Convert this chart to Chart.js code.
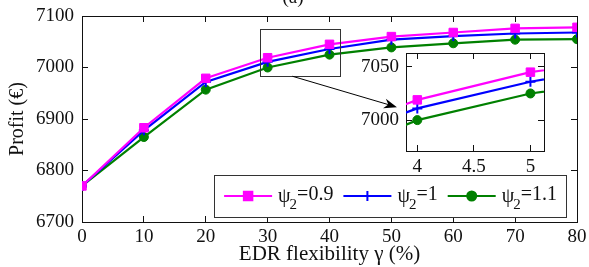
<!DOCTYPE html>
<html>
<head>
<meta charset="utf-8">
<script src="https://cdn.jsdelivr.net/npm/chart.js@4"></script>
<style>
html, body { margin: 0; padding: 0; background: #fff; }
#contenedor { position: relative; width: 589px; height: 267px; }
#grafico { position: absolute; left: 0; top: 0; }
#detalle { position: absolute; left: 340px; top: 45px; }
</style>
</head>
<body>
<div id="contenedor">
  <canvas id="grafico" width="589" height="267"></canvas>
  <canvas id="detalle" width="215" height="130"></canvas>
</div>
<script>
// datos
const flexibilidad = [0, 10, 20, 30, 40, 50, 60, 70, 80];
const psi09 = [6770, 6883, 6979, 7019, 7045, 7060, 7068, 7076, 7078];
const psi10 = [6770, 6878, 6972, 7011, 7036, 7054, 7061, 7066, 7068];
const psi11 = [6770, 6865, 6957, 7000, 7025, 7039, 7047, 7054, 7055];
const etiquetas = ['0.9', '1', '1.1'];

const ticksX = [0, 10, 20, 30, 40, 50, 60, 70, 80];
const ticksY = [6700, 6800, 6900, 7000, 7100];

// recuadro ampliado (eje 4..5 del detalle)
const detalleX = [3, 4, 5, 6];
const detalleTicksX = [4, 4.5, 5];
const detalleTicksY = [7000, 7050];
const zonaZoom = {x: [28.8, 41.7], y: [6983, 7075]};
const flecha = {desde: [34, 6983], hasta: [50.9, 6923]};

const fuente = '"Liberation Serif", serif';
const negro = '#111';
const colores = ['#ff00ff', '#0000ff', '#008000'];
const estilos = [
    {pointStyle: 'rect', pointRadius: 6, pointBorderWidth: 1},
    {pointStyle: 'cross', pointRadius: 5, pointBorderWidth: 2},
    {pointStyle: 'circle', pointRadius: 4.5, pointBorderWidth: 1}
];

const puntos = (xs, ys) => xs.map((x, i) => ({x: x, y: ys[i]}));

const series = (xs, lista) => lista.map((ys, i) => ({
    label: etiquetas[i],
    data: puntos(xs, ys),
    borderColor: colores[i],
    backgroundColor: colores[i],
    borderWidth: 2.2,
    ...estilos[i],
    pointHoverRadius: estilos[i].pointRadius
}));

// sin relleno extra por las etiquetas de los extremos
const ajustar = (ancho, alto) => s => {
    if (ancho != null) s.width = ancho;
    if (alto != null) s.height = alto;
    s.paddingTop = 0;
    s.paddingBottom = 0;
    s.paddingLeft = 0;
    s.paddingRight = 0;
};

const eje = (pos, min, max, valores, opciones) => ({
    type: 'linear',
    position: pos,
    min: min,
    max: max,
    afterBuildTicks: s => { s.ticks = valores.map(v => ({value: v})); },
    grid: {drawOnChartArea: false, tickLength: -6, color: negro, lineWidth: 1},
    border: {color: negro, width: 1},
    ticks: {display: false},
    ...opciones
});

const textoTicks = (padding) => ({
    display: true, color: negro, padding: padding,
    font: {family: fuente, size: 19},
    callback: v => String(v)
});

const dibujarMarca = (ctx, i, x, y) => {
    const e = estilos[i];
    Chart.helpers.drawPoint(ctx, {
        pointStyle: e.pointStyle, radius: e.pointRadius, borderWidth: e.pointBorderWidth, rotation: 0
    }, x, y);
};

const extras = {
    id: 'extras',
    afterDraw(chart) {
        const {ctx, chartArea, scales} = chart;
        ctx.save();

        // zona del zoom
        ctx.strokeStyle = '#333';
        ctx.lineWidth = 1;
        const zx1 = scales.x.getPixelForValue(zonaZoom.x[0]);
        const zx2 = scales.x.getPixelForValue(zonaZoom.x[1]);
        const zy1 = scales.y.getPixelForValue(zonaZoom.y[1]);
        const zy2 = scales.y.getPixelForValue(zonaZoom.y[0]);
        ctx.strokeRect(Math.round(zx1) + 0.5, Math.round(zy1) + 0.5, Math.round(zx2 - zx1), Math.round(zy2 - zy1));

        // flecha
        const ax = scales.x.getPixelForValue(flecha.desde[0]);
        const ay = scales.y.getPixelForValue(flecha.desde[1]);
        const bx = scales.x.getPixelForValue(flecha.hasta[0]);
        const by = scales.y.getPixelForValue(flecha.hasta[1]);
        const ang = Math.atan2(by - ay, bx - ax);
        const c = Math.cos(ang), s = Math.sin(ang);
        ctx.strokeStyle = '#000';
        ctx.beginPath();
        ctx.moveTo(ax, ay);
        ctx.lineTo(bx - 8 * c, by - 8 * s);
        ctx.stroke();
        ctx.fillStyle = '#000';
        ctx.beginPath();
        ctx.moveTo(bx, by);
        ctx.lineTo(bx - 13 * c + 5 * s, by - 13 * s - 5 * c);
        ctx.lineTo(bx - 9 * c, by - 9 * s);
        ctx.lineTo(bx - 13 * c - 5 * s, by - 13 * s + 5 * c);
        ctx.closePath();
        ctx.fill();

        // titulo cortado arriba
        ctx.font = '19px ' + fuente;
        ctx.fillStyle = negro;
        ctx.textAlign = 'center';
        ctx.textBaseline = 'alphabetic';
        ctx.fillText('(a)', 293, 3);

        // leyenda
        const grande = '20px ' + fuente;
        const chica = '15px ' + fuente;
        const medir = (f, t) => { ctx.font = f; return ctx.measureText(t).width; };
        const anchos = etiquetas.map(t => medir(grande, '\u03c8') - 1 + medir(chica, '2') + medir(grande, '=' + t));
        const ancho = 10 + anchos.reduce((s, a) => s + 48 + 6 + a + 10, 0) - 1;
        const alto = 42;
        const x0 = chartArea.right - 11 - ancho;
        const y0 = chartArea.bottom - 5 - alto;
        ctx.fillStyle = '#fff';
        ctx.fillRect(x0, y0, ancho, alto);
        ctx.strokeStyle = '#333';
        ctx.lineWidth = 1;
        ctx.strokeRect(Math.round(x0) + 0.5, Math.round(y0) + 0.5, Math.round(ancho), alto);

        let cx = x0 + 10;
        const cy = y0 + alto / 2;
        etiquetas.forEach((t, i) => {
            ctx.strokeStyle = colores[i];
            ctx.fillStyle = colores[i];
            ctx.lineWidth = 2;
            ctx.beginPath();
            ctx.moveTo(cx, cy);
            ctx.lineTo(cx + 48, cy);
            ctx.stroke();
            dibujarMarca(ctx, i, cx + 24, cy);
            cx += 54;
            ctx.fillStyle = negro;
            ctx.textAlign = 'left';
            ctx.textBaseline = 'alphabetic';
            const w1 = medir(grande, '\u03c8');
            ctx.fillText('\u03c8', cx, cy + 6);
            const w2 = medir(chica, '2');
            ctx.fillText('2', cx + w1 - 1, cy + 13);
            ctx.font = grande;
            ctx.fillText('=' + t, cx + w1 + w2 - 1, cy + 4);
            cx += anchos[i] + 10;
        });
        ctx.restore();
    }
};

const fondoDetalle = {
    id: 'fondoDetalle',
    beforeDraw(chart) {
        const {ctx, chartArea} = chart;
        ctx.save();
        ctx.fillStyle = '#fff';
        ctx.fillRect(chartArea.left, chartArea.top, chartArea.right - chartArea.left, chartArea.bottom - chartArea.top);
        ctx.restore();
    }
};

Chart.defaults.font.family = fuente;

new Chart(document.getElementById('grafico'), {
    type: 'line',
    data: {datasets: series(flexibilidad, [psi09, psi10, psi11])},
    options: {
        responsive: false,
        animation: false,
        devicePixelRatio: 1,
        layout: {padding: {left: 0, right: 12, top: 16, bottom: 0}},
        plugins: {legend: {display: false}, tooltip: {enabled: false}},
        scales: {
            x: eje('bottom', 0, 80, ticksX, {
                ticks: textoTicks(10),
                title: {display: true, text: 'EDR flexibility \u03b3 (%)', color: negro,
                    font: {family: fuente, size: 21}, padding: {top: 0, bottom: 0}},
                afterFit: ajustar(null, 45)
            }),
            x2: eje('top', 0, 80, ticksX, {afterFit: ajustar(null, 0)}),
            y: eje('left', 6700, 7100, ticksY, {
                ticks: textoTicks(14),
                title: {display: true, text: 'Profit (\u20ac)', color: negro,
                    font: {family: fuente, size: 20}, padding: {top: 6, bottom: 0}},
                afterFit: ajustar(82, null)
            }),
            y2: eje('right', 6700, 7100, ticksY, {afterFit: ajustar(0, null)})
        }
    },
    plugins: [extras]
});

new Chart(document.getElementById('detalle'), {
    type: 'line',
    data: {datasets: series(detalleX, [psi09, psi10, psi11].map(v => v.slice(2, 6)))},
    options: {
        responsive: false,
        animation: false,
        devicePixelRatio: 1,
        layout: {padding: {left: 0, right: 11, top: 8, bottom: 0}},
        plugins: {legend: {display: false}, tooltip: {enabled: false}},
        scales: {
            x: eje('bottom', 3.9, 5.12, detalleTicksX, {
                ticks: textoTicks(11),
                afterFit: ajustar(null, 24)
            }),
            x2: eje('top', 3.9, 5.12, detalleTicksX, {afterFit: ajustar(null, 0)}),
            y: eje('left', 6971, 7063, detalleTicksY, {
                ticks: textoTicks(13),
                afterFit: ajustar(66, null)
            }),
            y2: eje('right', 6971, 7063, detalleTicksY, {afterFit: ajustar(0, null)})
        }
    },
    plugins: [fondoDetalle]
});
</script>
</body>
</html>
